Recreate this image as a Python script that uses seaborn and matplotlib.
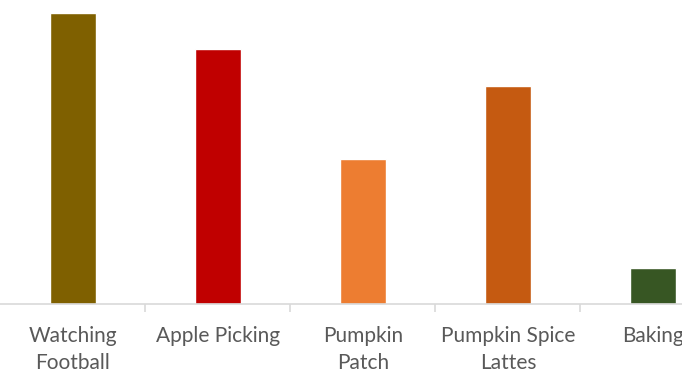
import numpy as np
import pandas as pd
import seaborn as sns
import matplotlib.pyplot as plt

categories = ["Watching\nFootball", "Apple Picking", "Pumpkin\nPatch", "Pumpkin Spice\nLattes", "Baking"]
values = [80, 70, 40, 60, 10]
colors = ["#7F6000", "#C00000", "#ED7D31", "#C55A11", "#375623"]

sns.set_style("white")
plt.rcParams['font.family'] = ['Lato', 'DejaVu Sans']

df = pd.DataFrame({"activity": categories, "value": values})

fig = plt.figure(figsize=(6.82, 3.74), dpi=100)
# axes runs past the right edge, the reference is cropped there
ax = fig.add_axes([0.0007, 0.187, 1.063, 0.778])

sns.barplot(data=df, x="activity", y="value", hue="activity", palette=colors,
            width=0.317, legend=False, ax=ax, saturation=1)

ax.set_ylim(0, 80)
ax.set_xlim(-0.5, len(categories) - 0.5)
for bar in ax.patches:
    bar.set_clip_on(False)

for side in ["top", "left", "right"]:
    ax.spines[side].set_visible(False)
ax.spines["bottom"].set_color("#D9D9D9")
ax.spines["bottom"].set_linewidth(1.2)

ax.set_yticks([])
ax.set_xlabel("")
ax.set_ylabel("")
ax.set_xticks(np.arange(len(categories)))
ax.set_xticklabels(categories, fontsize=15, color="#595959", linespacing=1.4)
ax.set_xticks(np.arange(len(categories) - 1) + 0.5, minor=True)
ax.tick_params(axis="x", which="major", length=0, pad=16)
ax.tick_params(axis="x", which="minor", length=6, width=1.2, color="#D9D9D9", bottom=True)

fig.savefig("out.png", dpi=100)
